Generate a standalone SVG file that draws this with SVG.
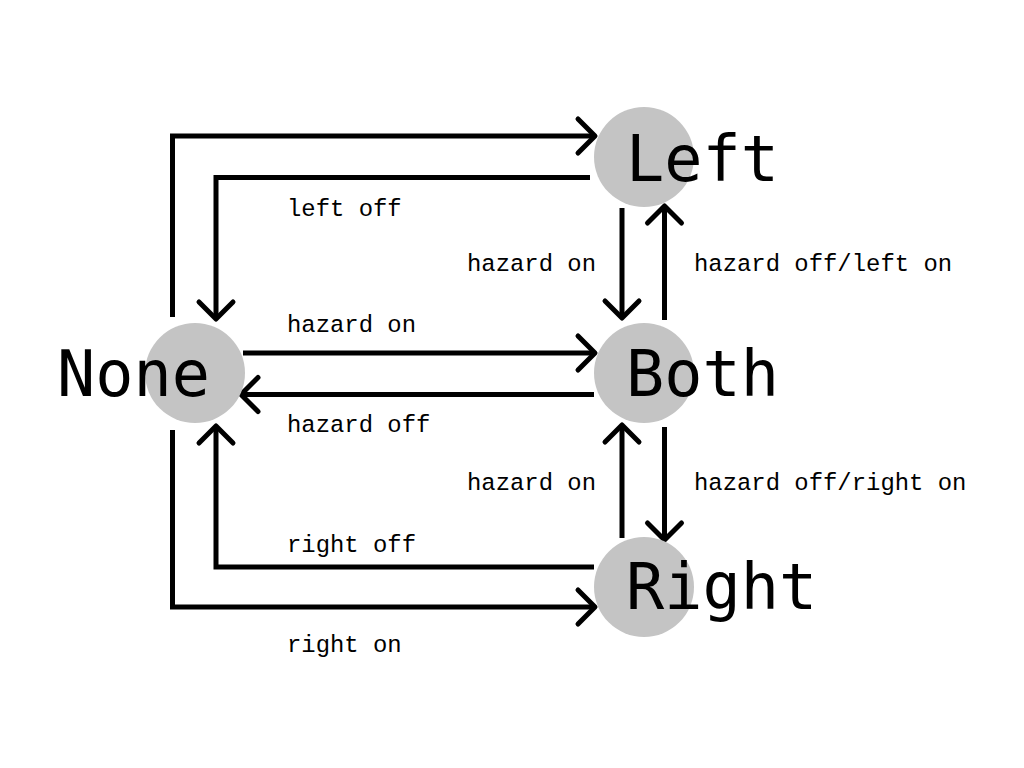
<svg xmlns="http://www.w3.org/2000/svg" width="1024" height="768" viewBox="0 0 1024 768">
<style>
.c{fill:#c4c4c4}
.n{font-family:"DejaVu Sans Mono",monospace;font-size:63.5px;fill:#000}
.l{font-family:"Liberation Mono",monospace;font-size:23.9px;fill:#000}
.e{fill:none;stroke:#000;stroke-width:5;marker-end:url(#a)}
</style>
<defs>
<marker id="a" markerUnits="userSpaceOnUse" markerWidth="40" markerHeight="40" refX="0" refY="0" orient="auto" overflow="visible">
<path d="M-17,-17 L0,0 L-17,17" fill="none" stroke="#000" stroke-width="5" stroke-linecap="round" stroke-linejoin="round"/>
</marker>
</defs>
<rect width="1024" height="768" fill="#fff"/>
<g id="connectors">
<path class="e" d="M172.5,317 V136 H595"/>
<path class="e" d="M590,177.5 H216 V319"/>
<path class="e" d="M243,353 H595"/>
<path class="e" d="M594,394.5 H241"/>
<path class="e" d="M622,208 V318"/>
<path class="e" d="M664.5,320 V206"/>
<path class="e" d="M622,538 V425"/>
<path class="e" d="M664.5,427 V540"/>
<path class="e" d="M594,567 H216 V426"/>
<path class="e" d="M172.5,430 V607 H595"/>
</g>
<g id="labels">
<text class="l" x="287" y="216">left off</text>
<text class="l" x="287" y="332">hazard on</text>
<text class="l" x="287" y="432">hazard off</text>
<text class="l" x="467" y="271">hazard on</text>
<text class="l" x="694" y="271">hazard off/left on</text>
<text class="l" x="467" y="490">hazard on</text>
<text class="l" x="694" y="490">hazard off/right on</text>
<text class="l" x="287" y="552">right off</text>
<text class="l" x="287" y="652">right on</text>
</g>
<g id="node-none"><circle class="c" cx="195" cy="373" r="50"/><text class="n" x="57" y="396">None</text></g>
<g id="node-left"><circle class="c" cx="644" cy="157" r="50"/><text class="n" x="626" y="181">Left</text></g>
<g id="node-both"><circle class="c" cx="644" cy="373" r="50"/><text class="n" x="626" y="396">Both</text></g>
<g id="node-right"><circle class="c" cx="644" cy="587" r="50"/><text class="n" x="626" y="609">Right</text></g>
</svg>
